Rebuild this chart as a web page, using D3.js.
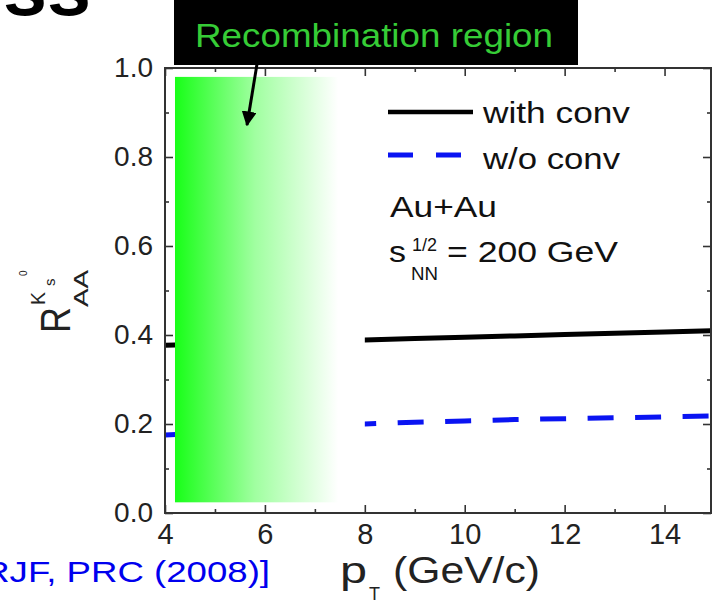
<!DOCTYPE html>
<html>
<head>
<meta charset="utf-8">
<script src="https://cdn.jsdelivr.net/npm/d3@7"></script>
<style>
  html, body { margin: 0; padding: 0; background: #fff; }
  svg { display: block; font-family: "Liberation Sans", Arial, Helvetica, sans-serif; }
</style>
</head>
<body>
<svg id="chart" width="721" height="606"></svg>
<script>
// Nuclear modification factor of K0s vs pT, Au+Au at sqrt(sNN) = 200 GeV
const pT = [4, 5, 6, 7, 8, 9, 10, 11, 12, 13, 14, 15];
const rWithConv = [0.377, 0.380, 0.383, 0.386, 0.389, 0.392, 0.395, 0.398, 0.401, 0.404, 0.407, 0.410];
const rWithoutConv = [0.175, 0.181, 0.188, 0.195, 0.200, 0.204, 0.207, 0.210, 0.212, 0.214, 0.216, 0.218];

const xMajorTicks = [4, 6, 8, 10, 12, 14];
const xMinorTicks = [5, 7, 9, 11, 13];
const yMajorTicks = [0.0, 0.2, 0.4, 0.6, 0.8, 1.0];
const yMinorTicks = [0.1, 0.3, 0.5, 0.7, 0.9];

const xDomain = [4, 14.93];
const yDomain = [0, 1];

// shaded recombination band (pT range, R range)
const recombPt = [4.2, 8.0];
const recombR = [0.024, 0.98];

const seriesNames = ["with conv", "w/o conv"];

const svg = d3.select("#chart");
const W = 721, H = 606;
svg.append("rect").attr("width", W).attr("height", H).attr("fill", "#fff");

const plotLeft = 165, plotRight = 711, plotTop = 68, plotBottom = 513;
const x = d3.scaleLinear().domain(xDomain).range([plotLeft, plotRight]);
const y = d3.scaleLinear().domain(yDomain).range([plotBottom, plotTop]);

// clipping to the frame
const defs = svg.append("defs");
defs.append("clipPath").attr("id", "plotClip")
  .append("rect").attr("x", plotLeft).attr("y", plotTop)
  .attr("width", plotRight - plotLeft).attr("height", plotBottom - plotTop);

const grad = defs.append("linearGradient").attr("id", "recombGrad")
  .attr("x1", "0%").attr("x2", "100%").attr("y1", "0%").attr("y2", "0%");
grad.append("stop").attr("offset", "0%").attr("stop-color", "#18ff18");
grad.append("stop").attr("offset", "42%").attr("stop-color", "#a0ffa0");
grad.append("stop").attr("offset", "86%").attr("stop-color", "#ffffff");
grad.append("stop").attr("offset", "100%").attr("stop-color", "#ffffff");

defs.append("marker").attr("id", "arrowHead")
  .attr("viewBox", "0 0 10 10").attr("refX", 9).attr("refY", 5)
  .attr("markerWidth", 5).attr("markerHeight", 5)
  .attr("markerUnits", "strokeWidth").attr("orient", "auto")
  .append("path").attr("d", "M0,0 L10,5 L0,10 Z").attr("fill", "#000");

// curves
const plot = svg.append("g").attr("clip-path", "url(#plotClip)");
const line = d3.line().x(d => x(d[0])).y(d => y(d[1]));

plot.append("path")
  .datum(pT.map((p, i) => [p, rWithConv[i]]))
  .attr("d", line).attr("fill", "none")
  .attr("stroke", "#000").attr("stroke-width", 5);

plot.append("path")
  .datum(pT.map((p, i) => [p, rWithoutConv[i]]))
  .attr("d", line).attr("fill", "none")
  .attr("stroke", "#0a14f2").attr("stroke-width", 5)
  .attr("stroke-dasharray", "26,21.5").attr("stroke-dashoffset", 4.5);

// recombination band on top of the curves
svg.append("rect")
  .attr("x", x(recombPt[0])).attr("y", y(recombR[1]))
  .attr("width", x(recombPt[1]) - x(recombPt[0]))
  .attr("height", y(recombR[0]) - y(recombR[1]))
  .attr("fill", "url(#recombGrad)");

// axes: ticks pointing inward on all four sides
const axisColor = "#333";
function styleAxis(g) {
  g.select(".domain").remove();
  g.selectAll(".tick line").attr("stroke", axisColor).attr("stroke-width", 1.6);
}
const fmt = d3.format(".1f");

svg.append("g").attr("transform", `translate(0,${plotBottom})`)
  .call(d3.axisBottom(x).tickValues(xMajorTicks).tickSize(-8).tickPadding(10).tickFormat(d3.format("d")))
  .call(styleAxis)
  .call(g => g.selectAll("text").attr("font-size", 29).attr("fill", "#222")
    .attr("font-family", "'Liberation Sans', Arial, sans-serif"));
svg.append("g").attr("transform", `translate(0,${plotBottom})`)
  .call(d3.axisBottom(x).tickValues(xMinorTicks).tickSize(-4).tickFormat(""))
  .call(styleAxis);
svg.append("g").attr("transform", `translate(0,${plotTop})`)
  .call(d3.axisTop(x).tickValues(xMajorTicks).tickSize(-8).tickFormat(""))
  .call(styleAxis);
svg.append("g").attr("transform", `translate(0,${plotTop})`)
  .call(d3.axisTop(x).tickValues(xMinorTicks).tickSize(-4).tickFormat(""))
  .call(styleAxis);

svg.append("g").attr("transform", `translate(${plotLeft},0)`)
  .call(d3.axisLeft(y).tickValues(yMajorTicks).tickSize(-8).tickPadding(12).tickFormat(fmt))
  .call(styleAxis)
  .call(g => g.selectAll("text").attr("font-size", 28).attr("fill", "#222")
    .attr("font-family", "'Liberation Sans', Arial, sans-serif"));
svg.append("g").attr("transform", `translate(${plotLeft},0)`)
  .call(d3.axisLeft(y).tickValues(yMinorTicks).tickSize(-4).tickFormat(""))
  .call(styleAxis);
svg.append("g").attr("transform", `translate(${plotRight},0)`)
  .call(d3.axisRight(y).tickValues(yMajorTicks).tickSize(-8).tickFormat(""))
  .call(styleAxis);
svg.append("g").attr("transform", `translate(${plotRight},0)`)
  .call(d3.axisRight(y).tickValues(yMinorTicks).tickSize(-4).tickFormat(""))
  .call(styleAxis);

svg.append("rect")
  .attr("x", plotLeft).attr("y", plotTop)
  .attr("width", plotRight - plotLeft).attr("height", plotBottom - plotTop)
  .attr("fill", "none").attr("stroke", axisColor).attr("stroke-width", 2);

// axis titles
const xt = svg.append("g").attr("fill", "#222");
xt.append("text").attr("x", 340).attr("y", 583).attr("font-size", 37)
  .attr("textLength", 27).attr("lengthAdjust", "spacingAndGlyphs").text("p");
xt.append("text").attr("x", 369).attr("y", 600).attr("font-size", 18).text("T");
xt.append("text").attr("x", 393).attr("y", 583).attr("font-size", 36)
  .attr("textLength", 147).attr("lengthAdjust", "spacingAndGlyphs").text("(GeV/c)");

const yt = svg.append("g").attr("fill", "#222")
  .attr("transform", "translate(70,333) rotate(-90)");
yt.append("text").attr("x", 0).attr("y", 0).attr("font-size", 42)
  .attr("textLength", 26).attr("lengthAdjust", "spacingAndGlyphs").text("R");
yt.append("text").attr("x", 26).attr("y", 18).attr("font-size", 20)
  .attr("textLength", 37).attr("lengthAdjust", "spacingAndGlyphs").text("AA");
yt.append("text").attr("x", 28).attr("y", -25).attr("font-size", 20)
  .attr("textLength", 13).attr("lengthAdjust", "spacingAndGlyphs").text("K");
yt.append("text").attr("x", 47).attr("y", -15).attr("font-size", 15).text("s");
yt.append("text").attr("x", 57).attr("y", -43).attr("font-size", 10).text("0");

// legend
const legend = svg.append("g");
legend.append("line").attr("x1", 388).attr("x2", 473).attr("y1", 112).attr("y2", 112)
  .attr("stroke", "#000").attr("stroke-width", 4.5);
legend.append("line").attr("x1", 388).attr("x2", 461).attr("y1", 155).attr("y2", 155)
  .attr("stroke", "#0a14f2").attr("stroke-width", 5).attr("stroke-dasharray", "25,23");
legend.append("text").attr("x", 483).attr("y", 123).attr("font-size", 30).attr("fill", "#111")
  .attr("textLength", 147).attr("lengthAdjust", "spacingAndGlyphs").text(seriesNames[0]);
legend.append("text").attr("x", 483).attr("y", 169).attr("font-size", 30).attr("fill", "#111")
  .attr("textLength", 137).attr("lengthAdjust", "spacingAndGlyphs").text(seriesNames[1]);

const sys = svg.append("g").attr("fill", "#111");
sys.append("text").attr("x", 390).attr("y", 217).attr("font-size", 30)
  .attr("textLength", 107).attr("lengthAdjust", "spacingAndGlyphs").text("Au+Au");
sys.append("text").attr("x", 389).attr("y", 262).attr("font-size", 30)
  .attr("textLength", 17).attr("lengthAdjust", "spacingAndGlyphs").text("s");
sys.append("text").attr("x", 412).attr("y", 251).attr("font-size", 18)
  .attr("textLength", 25).attr("lengthAdjust", "spacingAndGlyphs").text("1/2");
sys.append("text").attr("x", 411).attr("y", 280).attr("font-size", 19)
  .attr("textLength", 27).attr("lengthAdjust", "spacingAndGlyphs").text("NN");
sys.append("text").attr("x", 447).attr("y", 262).attr("font-size", 30)
  .attr("textLength", 171).attr("lengthAdjust", "spacingAndGlyphs").text("= 200 GeV");

// recombination label box with arrow
svg.append("rect").attr("x", 174).attr("y", -5).attr("width", 404).attr("height", 70).attr("fill", "#000");
svg.append("text").attr("x", 195).attr("y", 47).attr("font-size", 34).attr("fill", "#36cc36")
  .attr("textLength", 358).attr("lengthAdjust", "spacingAndGlyphs").text("Recombination region");
svg.append("line").attr("x1", 258).attr("y1", 58).attr("x2", 247).attr("y2", 125)
  .attr("stroke", "#000").attr("stroke-width", 3).attr("marker-end", "url(#arrowHead)");

// title fragment and reference
svg.append("text").attr("x", 3).attr("y", 15).attr("font-size", 78).attr("font-weight", 900)
  .attr("fill", "#000").attr("textLength", 88).attr("lengthAdjust", "spacingAndGlyphs").text("ss");
svg.append("text").attr("x", -27).attr("y", 582).attr("font-size", 30).attr("fill", "#0000ee")
  .attr("textLength", 297).attr("lengthAdjust", "spacingAndGlyphs").text("[RJF, PRC (2008)]");
</script>
</body>
</html>
